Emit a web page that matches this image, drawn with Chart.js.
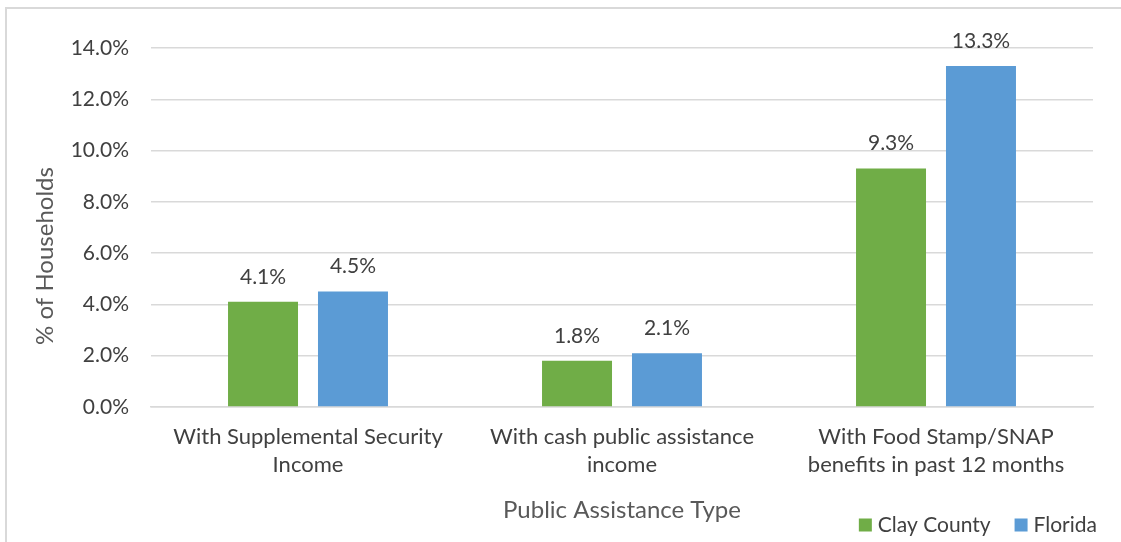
<!DOCTYPE html>
<html>
<head>
<meta charset="utf-8">
<script src="https://cdn.jsdelivr.net/npm/chart.js@4.4.0/dist/chart.umd.min.js"></script>
<style>
    html, body { margin: 0; padding: 0; background: #ffffff; overflow: hidden; }
    #frame {
        position: absolute;
        left: 5px;
        top: 7px;
        width: 1200px;
        height: 600px;
        border: 2px solid #d9d9d9;
        box-sizing: border-box;
    }
    #wrap { position: absolute; left: 0; top: 0; width: 1121px; height: 542px; }
</style>
</head>
<body>
<div id="frame"></div>
<div id="wrap"><canvas id="assistChart" width="1121" height="542"></canvas></div>
<script>
// Public assistance by household, Clay County vs Florida
const categories = [
    ['With Supplemental Security', 'Income'],
    ['With cash public assistance', 'income'],
    ['With Food Stamp/SNAP', 'benefits in past 12 months']
];
const clayCounty = [4.1, 1.8, 9.3];
const florida = [4.5, 2.1, 13.3];
const yTicks = [0, 2, 4, 6, 8, 10, 12, 14];
const yTitle = '% of Households';
const xTitle = 'Public Assistance Type';

const FONT = "Lato, 'Open Sans', sans-serif";
const TEXT = '#404040';
const TITLE = '#595959';

// Percent labels above each bar
const valueLabels = {
    id: 'valueLabels',
    afterDatasetsDraw(chart) {
        const ctx = chart.ctx;
        ctx.save();
        ctx.font = '21px ' + FONT;
        ctx.fillStyle = TEXT;
        ctx.textAlign = 'center';
        ctx.textBaseline = 'middle';
        chart.data.datasets.forEach((ds, i) => {
            chart.getDatasetMeta(i).data.forEach((bar, j) => {
                ctx.fillText(ds.data[j].toFixed(1) + '%', bar.x, bar.y - 25);
            });
        });
        ctx.restore();
    }
};

// Vertical axis title, centred a little below the plot middle
const sideTitle = {
    id: 'sideTitle',
    afterDraw(chart) {
        const ctx = chart.ctx;
        ctx.save();
        ctx.font = '24px ' + FONT;
        ctx.fillStyle = TITLE;
        ctx.textAlign = 'center';
        ctx.textBaseline = 'middle';
        ctx.translate(45, 256);
        ctx.rotate(-Math.PI / 2);
        ctx.fillText(yTitle, 0, 0);
        ctx.restore();
    }
};

// Legend in the bottom right corner, laid out from the right edge
const cornerLegend = {
    id: 'cornerLegend',
    afterDraw(chart) {
        const ctx = chart.ctx;
        ctx.save();
        ctx.font = '21px ' + FONT;
        ctx.textBaseline = 'middle';
        ctx.textAlign = 'left';
        const box = 13, gapBox = 6, gapItem = 24, y = 525;
        let x = 1097;
        const items = chart.data.datasets.slice().reverse();
        items.forEach(ds => {
            const w = ctx.measureText(ds.label).width;
            x -= w;
            ctx.fillStyle = TEXT;
            ctx.fillText(ds.label, x, y);
            x -= gapBox + box;
            ctx.fillStyle = ds.backgroundColor;
            ctx.fillRect(x, y - box / 2, box, box);
            x -= gapItem;
        });
        ctx.restore();
    }
};

new Chart(document.getElementById('assistChart').getContext('2d'), {
    type: 'bar',
    data: {
        labels: categories,
        datasets: [{
            label: 'Clay County',
            data: clayCounty,
            backgroundColor: '#70ad47',
            categoryPercentage: 0.573,
            barPercentage: 0.778
        }, {
            label: 'Florida',
            data: florida,
            backgroundColor: '#5b9bd5',
            categoryPercentage: 0.573,
            barPercentage: 0.778
        }]
    },
    options: {
        responsive: false,
        animation: false,
        layout: {
            padding: { top: 48, right: 28, bottom: 0, left: 0 }
        },
        plugins: {
            legend: { display: false },
            tooltip: { enabled: false }
        },
        scales: {
            x: {
                grid: { display: false, drawTicks: false },
                border: { color: '#d9d9d9', width: 1.5 },
                ticks: {
                    color: TEXT,
                    font: { family: FONT, size: 22, lineHeight: 1.28 },
                    padding: 16,
                    maxRotation: 0
                },
                title: {
                    display: true,
                    text: xTitle,
                    color: TITLE,
                    font: { family: FONT, size: 24, lineHeight: 1.2 },
                    padding: { top: 0, bottom: 17 }
                },
                afterFit(scale) { scale.height = 542 - 407; }
            },
            y: {
                min: 0,
                max: 14,
                afterBuildTicks(scale) { scale.ticks = yTicks.map(v => ({ value: v })); },
                grid: { color: '#d9d9d9', lineWidth: 1.5, drawTicks: false },
                border: { display: false },
                ticks: {
                    color: TEXT,
                    font: { family: FONT, size: 21 },
                    padding: 22,
                    callback: v => v.toFixed(1) + '%'
                },
                afterFit(scale) { scale.width = 151; }
            }
        }
    },
    plugins: [valueLabels, sideTitle, cornerLegend]
});
</script>
</body>
</html>
